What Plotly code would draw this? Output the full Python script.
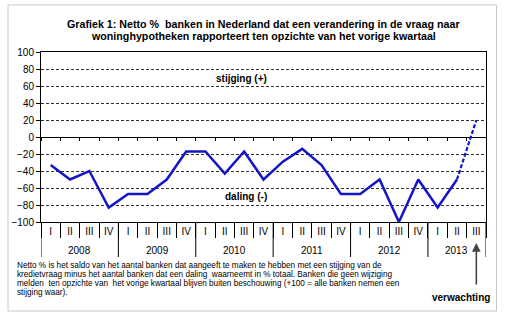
import plotly.graph_objects as go

# Quarterly survey results: net % of banks reporting a change in mortgage demand
years = ["2008"] * 4 + ["2009"] * 4 + ["2010"] * 4 + ["2011"] * 4 + ["2012"] * 4 + ["2013"] * 3
quarters = ["I", "II", "III", "IV"] * 5 + ["I", "II", "III"]
netto = [-33, -50, -40, -83,
         -67, -67, -50, -17,
         -17, -43, -17, -50,
         -29, -14, -33, -67,
         -67, -50, -100, -50,
         -83, -50, 20]
n_actual = 22  # last value is the expectation (verwachting)

y_ticks = [-100, -80, -60, -40, -20, 0, 20, 40, 60, 80, 100]

title_lines = [
    "Grafiek 1: Netto %  banken in Nederland dat een verandering in de vraag naar",
    "woninghypotheken rapporteert ten opzichte van het vorige kwartaal",
]
note_lines = [
    "Netto % is het saldo van het aantal banken dat aangeeft te maken te hebben met een stijging van de",
    "kredietvraag minus het aantal banken dat een daling  waarneemt in % totaal. Banken die geen wijziging",
    "melden  ten opzichte van  het vorige kwartaal blijven buiten beschouwing (+100 = alle banken nemen een",
    "stijging waar).",
]

FONT = "Arial, Liberation Sans, sans-serif"
BLUE = "#1414c8"

W, H = 507, 322
ML, MR, MT, MB = 41, 21, 52, 100
PW, PH = W - ML - MR, H - MT - MB


def px_x(p):
    return (p - ML) / PW


def px_y(p):
    return (H - MB - p) / PH


n = len(netto)
xpos = [i + 0.5 for i in range(n)]          # category centres
bounds = list(range(n + 1))                  # category boundaries

# year groups: start/end boundary of each year
groups = []
for i, yr in enumerate(years):
    if not groups or groups[-1][0] != yr:
        groups.append([yr, i, i + 1])
    else:
        groups[-1][2] = i + 1

fig = go.Figure()
fig.add_trace(go.Scatter(
    x=xpos[:n_actual], y=netto[:n_actual],
    mode="lines", line=dict(color=BLUE, width=2.5), showlegend=False,
))
fig.add_trace(go.Scatter(
    x=xpos[n_actual - 1:], y=netto[n_actual - 1:],
    mode="lines", line=dict(color=BLUE, width=2.2, dash="4px,2px"), showlegend=False,
))
# carrier for the tick axis drawn along the zero line
fig.add_trace(go.Scatter(x=[], y=[], xaxis="x2", showlegend=False))

annotations = []
for i, t in enumerate(title_lines):
    annotations.append(dict(
        text=f"<b>{t}</b>", xref="paper", yref="paper", x=0.5, y=px_y(24.5 + 11.5 * i),
        xanchor="center", yanchor="middle", showarrow=False,
        font=dict(family=FONT, size=10.7, color="#000"),
    ))
for i, t in enumerate(note_lines):
    annotations.append(dict(
        text=t, xref="paper", yref="paper", x=px_x(15), y=px_y(265 + 9.2 * i),
        xanchor="left", yanchor="middle", showarrow=False,
        font=dict(family=FONT, size=8.2, color="#000"),
    ))
for yr, a, b in groups:
    annotations.append(dict(
        text=yr, xref="x", yref="paper", x=(a + b) / 2, y=px_y(250),
        xanchor="center", yanchor="middle", showarrow=False,
        font=dict(family=FONT, size=10, color="#000"),
    ))
annotations += [
    dict(text="<b>stijging (+)</b>", xref="paper", yref="y", x=px_x(241), y=69,
         xanchor="center", yanchor="middle", showarrow=False,
         font=dict(family=FONT, size=10, color="#000")),
    dict(text="<b>daling (-)</b>", xref="paper", yref="y", x=px_x(246), y=-70,
         xanchor="center", yanchor="middle", showarrow=False,
         font=dict(family=FONT, size=10, color="#000")),
    dict(text="", xref="x", yref="paper", x=xpos[-1], y=px_y(243),
         ax=0, ay=43, showarrow=True, arrowhead=2, arrowsize=1.1, arrowwidth=1.6,
         arrowcolor="#444"),
    dict(text="<b>verwachting</b>", xref="paper", yref="paper", x=px_x(461), y=px_y(297),
         xanchor="center", yanchor="middle", showarrow=False,
         font=dict(family=FONT, size=10, color="#000")),
]

shapes = [dict(type="rect", xref="paper", yref="paper",
               x0=px_x(8), x1=px_x(496.5), y0=px_y(311), y1=px_y(5),
               line=dict(color="#c8c8c8", width=1), layer="below")]
# year dividers below the axis
year_edges = sorted({g[1] for g in groups} | {groups[-1][2]})
for e in year_edges:
    shapes.append(dict(type="line", xref="x", yref="paper", x0=e, x1=e,
                       y0=px_y(257), y1=0, line=dict(color="#000", width=1)))

fig.update_layout(
    width=W, height=H,
    margin=dict(l=ML, r=MR, t=MT, b=MB),
    paper_bgcolor="white", plot_bgcolor="white",
    font=dict(family=FONT, size=10, color="#000"),
    annotations=annotations,
    shapes=shapes,
    xaxis=dict(
        range=[0, n], tickmode="array", tickvals=xpos, ticktext=quarters, ticks="",
        showline=True, mirror=True, linecolor="#000", linewidth=1,
        showgrid=False, zeroline=False,
        minor=dict(tickmode="array", tickvals=bounds, ticks="outside", ticklen=15,
                   tickcolor="#000", showgrid=False),
        tickfont=dict(family=FONT, size=10, color="#000"),
    ),
    xaxis2=dict(
        overlaying="x", anchor="free", position=0.5, range=[0, n],
        tickmode="array", tickvals=bounds,
        ticks="outside", ticklen=3, tickcolor="#000", showticklabels=False,
        showgrid=False, showline=False, zeroline=False,
    ),
    yaxis=dict(
        range=[-100, 100], tickvals=y_ticks, showline=True, mirror=True,
        linecolor="#000", linewidth=1, ticks="outside", ticklen=4, tickcolor="#000",
        showgrid=True, gridcolor="#333", griddash="3px,2px", gridwidth=1,
        zeroline=True, zerolinecolor="#000", zerolinewidth=1,
        tickfont=dict(family=FONT, size=10, color="#000"),
    ),
)

fig.write_html("out.html")
